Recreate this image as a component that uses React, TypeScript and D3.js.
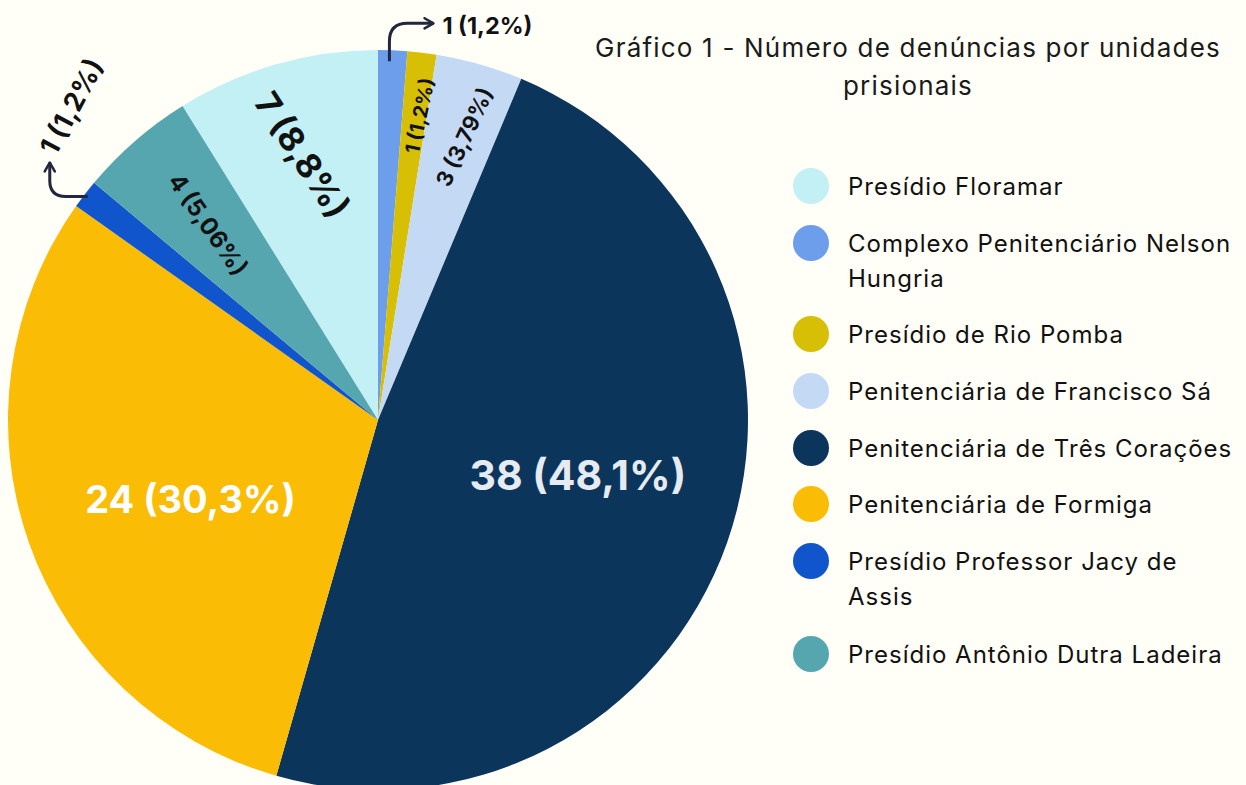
import * as d3 from 'd3';

const W = 1246;
const H = 785;

// legend order (also pie order, starting from Floramar which ends at 12 o'clock)
const categories = [
    'Presídio Floramar',
    'Complexo Penitenciário Nelson Hungria',
    'Presídio de Rio Pomba',
    'Penitenciária de Francisco Sá',
    'Penitenciária de Três Corações',
    'Penitenciária de Formiga',
    'Presídio Professor Jacy de Assis',
    'Presídio Antônio Dutra Ladeira',
];
const values = [7, 1, 1, 3, 38, 24, 1, 4];
const labels = ['7 (8,8%)', '1 (1,2%)', '1 (1,2%)', '3 (3,79%)', '38 (48,1%)', '24 (30,3%)', '1 (1,2%)', '4 (5,06%)'];
const colors = ['#C2F0F4', '#6D9EEB', '#D6BF04', '#C4D9F3', '#0C355C', '#FBBC05', '#1155CC', '#56A6B0'];
const legendLines = [
    ['Presídio Floramar'],
    ['Complexo Penitenciário Nelson', 'Hungria'],
    ['Presídio de Rio Pomba'],
    ['Penitenciária de Francisco Sá'],
    ['Penitenciária de Três Corações'],
    ['Penitenciária de Formiga'],
    ['Presídio Professor Jacy de', 'Assis'],
    ['Presídio Antônio Dutra Ladeira'],
];
const titleLines = ['Gráfico 1 - Número de denúncias por unidades', 'prisionais'];

// label styling per slice: radius factor, angle shift (deg), rotation, size, colour; null => outside with arrow
const labelStyle = [
    { r: 0.745, da: 0, rot: 57, size: 34, fill: '#111111' },
    null,
    { r: 0.83, da: 1, rot: -78, size: 20, fill: '#111111' },
    { r: 0.8, da: 1, rot: -65, size: 22, fill: '#111111' },
    { r: 0.56, da: -4, rot: 0, size: 41, fill: '#E6EAF1' },
    { r: 0.55, da: -3.5, rot: 0, size: 38, fill: '#FFFFFF' },
    null,
    { r: 0.7, da: 0, rot: 55, size: 24, fill: '#111111' },
];

const cx = 378;
const cy = 420;
const R = 370;
const font = "Inter, 'Noto Sans', sans-serif";

export default function App() {
    const total = d3.sum(values);
    const start = (-values[0] / total) * 2 * Math.PI;
    const pie = d3
        .pie<number>()
        .sort(null)
        .startAngle(start)
        .endAngle(start + 2 * Math.PI);
    const arcs = pie(values);
    const arc = d3.arc<d3.PieArcDatum<number>>().innerRadius(0).outerRadius(R);

    const polar = (angle: number, r: number): [number, number] => [r * Math.sin(angle), -r * Math.cos(angle)];

    // outside labels: Nelson Hungria (index 1) and Jacy de Assis (index 6)
    const nelson = arcs[1];
    const nA = polar(nelson.startAngle + (nelson.endAngle - nelson.startAngle) * 0.4, R * 0.97);
    const jacy = arcs[6];
    const jA = polar((jacy.startAngle + jacy.endAngle) / 2, R * 0.99);

    const legendY = [186, 243, 334, 391, 448, 504, 561, 654];

    return (
        <svg width={W} height={H} style={{ position: 'absolute', left: 0, top: 0, background: '#FFFEF7' }}>
            <rect width={W} height={H} fill="#FFFEF7" />
            <defs>
                <marker id="ah" viewBox="0 0 10 10" refX="8" refY="5" markerWidth="4.2" markerHeight="4.2" orient="auto">
                    <path d="M1,1 L8,5 L1,9" fill="none" stroke="#23263F" strokeWidth="2" strokeLinecap="round" strokeLinejoin="round" />
                </marker>
            </defs>
            <g transform={`translate(${cx},${cy})`}>
                {arcs.map((a, i) => (
                    <path key={i} d={arc(a) || ''} fill={colors[i]} />
                ))}
                {arcs.map((a, i) => {
                    const s = labelStyle[i];
                    if (!s) return null;
                    const [x, y] = polar((a.startAngle + a.endAngle) / 2 + (s.da * Math.PI) / 180, R * s.r);
                    return (
                        <text
                            key={`l${i}`}
                            transform={`translate(${x},${y}) rotate(${s.rot})`}
                            textAnchor="middle"
                            dominantBaseline="central"
                            fontFamily={font}
                            fontWeight={700}
                            fontSize={s.size}
                            fill={s.fill}
                        >
                            {labels[i]}
                        </text>
                    );
                })}
                {/* arrow + label for Nelson Hungria */}
                <path
                    d={`M${nA[0]},${nA[1]} L${nA[0]},${nA[1] - 20} Q${nA[0]},${nA[1] - 38} ${nA[0] + 18},${nA[1] - 38} L${nA[0] + 44},${nA[1] - 38}`}
                    fill="none"
                    stroke="#23263F"
                    strokeWidth={3}
                    markerEnd="url(#ah)"
                />
                <text
                    x={nA[0] + 53}
                    y={nA[1] - 36}
                    dominantBaseline="central"
                    fontFamily={font}
                    fontWeight={700}
                    fontSize={23.5}
                    fill="#111111"
                >
                    {labels[1]}
                </text>
                {/* arrow + label for Jacy de Assis */}
                <path
                    d={`M${jA[0]},${jA[1]} L${jA[0] - 22},${jA[1]} Q${jA[0] - 38},${jA[1]} ${jA[0] - 38},${jA[1] - 16} L${jA[0] - 38},${jA[1] - 34}`}
                    fill="none"
                    stroke="#23263F"
                    strokeWidth={3}
                    markerEnd="url(#ah)"
                />
                <text
                    transform={`translate(${jA[0] - 16},${jA[1] - 90}) rotate(-62)`}
                    textAnchor="middle"
                    dominantBaseline="central"
                    fontFamily={font}
                    fontWeight={700}
                    fontSize={27}
                    fill="#111111"
                >
                    {labels[6]}
                </text>
            </g>
            {titleLines.map((t, i) => (
                <text
                    key={`t${i}`}
                    x={908}
                    y={47 + i * 38}
                    textAnchor="middle"
                    dominantBaseline="central"
                    fontFamily={font}
                    fontSize={26}
                    letterSpacing={1.2}
                    fill="#1A1A1A"
                >
                    {t}
                </text>
            ))}
            {categories.map((c, i) => (
                <g key={c} transform={`translate(811,${legendY[i]})`}>
                    <circle r={18} fill={colors[i]} />
                    {legendLines[i].map((ln, j) => (
                        <text
                            key={j}
                            x={37}
                            y={j * 35}
                            dominantBaseline="central"
                            fontFamily={font}
                            fontSize={24}
                            letterSpacing={1}
                            fill="#111111"
                        >
                            {ln}
                        </text>
                    ))}
                </g>
            ))}
        </svg>
    );
}
